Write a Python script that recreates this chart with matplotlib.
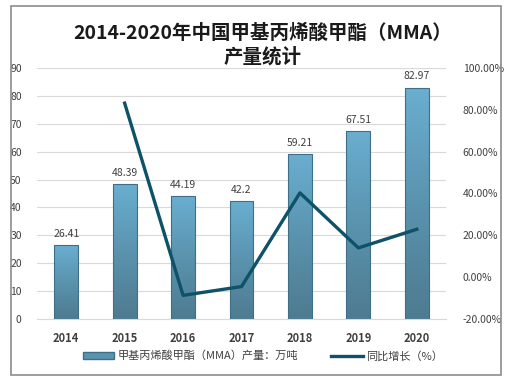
import numpy as np
import matplotlib
matplotlib.use('Agg')
import matplotlib.pyplot as plt
from matplotlib.patches import Rectangle
from matplotlib.lines import Line2D
from matplotlib.colors import LinearSegmentedColormap

plt.rcParams['font.family'] = ['Noto Sans CJK SC', 'DejaVu Sans']

years = ['2014', '2015', '2016', '2017', '2018', '2019', '2020']
output = [26.41, 48.39, 44.19, 42.2, 59.21, 67.51, 82.97]
growth = [None, 83.2, -8.7, -4.5, 40.3, 14.0, 22.9]  # %

fig = plt.figure(figsize=(5.26, 3.8), dpi=100)
# outer frame
fig.patches.append(Rectangle((11 / 526, 5 / 380), 490 / 526, 369 / 380, transform=fig.transFigure,
                             fill=False, edgecolor='#8c8c8c', linewidth=1.2))

ax = fig.add_axes([37 / 526, (380 - 319) / 380, 409 / 526, (319 - 68) / 380])
x = np.arange(len(years))
bw = 0.41
cmap = LinearSegmentedColormap.from_list('bar', ['#4e7b91', '#5a93ae', '#6aaed0'])
grad = np.linspace(0, 1, 100).reshape(-1, 1)
bars = ax.bar(x, output, width=bw, color='none', edgecolor='#3f6f86', linewidth=0.8, zorder=3)
for b in bars:
    im = ax.imshow(grad, cmap=cmap, aspect='auto', origin='lower',
                   extent=[b.get_x(), b.get_x() + b.get_width(), 0, b.get_height()], zorder=2)
    im.set_clip_path(b)
for xi, v in zip(x, output):
    ax.text(xi, v + 2.2, f'{v:g}', ha='center', va='bottom', fontsize=7.5, color='#404040')

ax.set_xlim(-0.5, len(years) - 0.5)
ax.set_ylim(0, 90)
ax.set_yticks(range(0, 91, 10))
ax.yaxis.grid(True, color='#d9d9d9', linewidth=0.8, zorder=0)
ax.set_axisbelow(True)
for s in ['top', 'right', 'left']:
    ax.spines[s].set_visible(False)
ax.spines['bottom'].set_color('#d9d9d9')
ax.tick_params(axis='y', length=0, labelsize=7.5, labelcolor='#404040', pad=11)
ax.set_xticks(x)
ax.set_xticklabels(years, fontsize=8, fontweight='bold', color='#404040')
ax.tick_params(axis='x', length=0, pad=9)

ax2 = ax.twinx()
gx = [xi for xi, g in zip(x, growth) if g is not None]
gy = [g for g in growth if g is not None]
ax2.plot(gx, gy, color='#0d5268', linewidth=2.4, zorder=5)
ax2.set_ylim(-20, 100)
ax2.set_yticks(range(-20, 101, 20))
ax2.set_yticklabels([f'{v:.2f}%' for v in range(-20, 101, 20)])
ax2.tick_params(axis='y', length=0, labelsize=7.5, labelcolor='#404040', pad=12)
for s in ax2.spines.values():
    s.set_visible(False)

fig.text(0.5, 1 - 45 / 380, '2014-2020年中国甲基丙烯酸甲酯（MMA）\n产量统计', ha='center', va='center',
         fontsize=14, fontweight='bold', color='#1a1a1a', linespacing=1.25)

handles = [Rectangle((0, 0), 1, 1, facecolor='#5a93ae', edgecolor='#3f6f86'),
           Line2D([0], [0], color='#0d5268', linewidth=2.4)]
fig.legend(handles, ['甲基丙烯酸甲酯（MMA）产量：万吨', '同比增长（%）'], loc='center',
           bbox_to_anchor=(0.5, 24 / 380), ncol=2, frameon=False, fontsize=8,
           handlelength=2.8, handleheight=0.6, columnspacing=3, handletextpad=0.3,
           labelcolor='#404040')

fig.savefig('out.png', dpi=100)
